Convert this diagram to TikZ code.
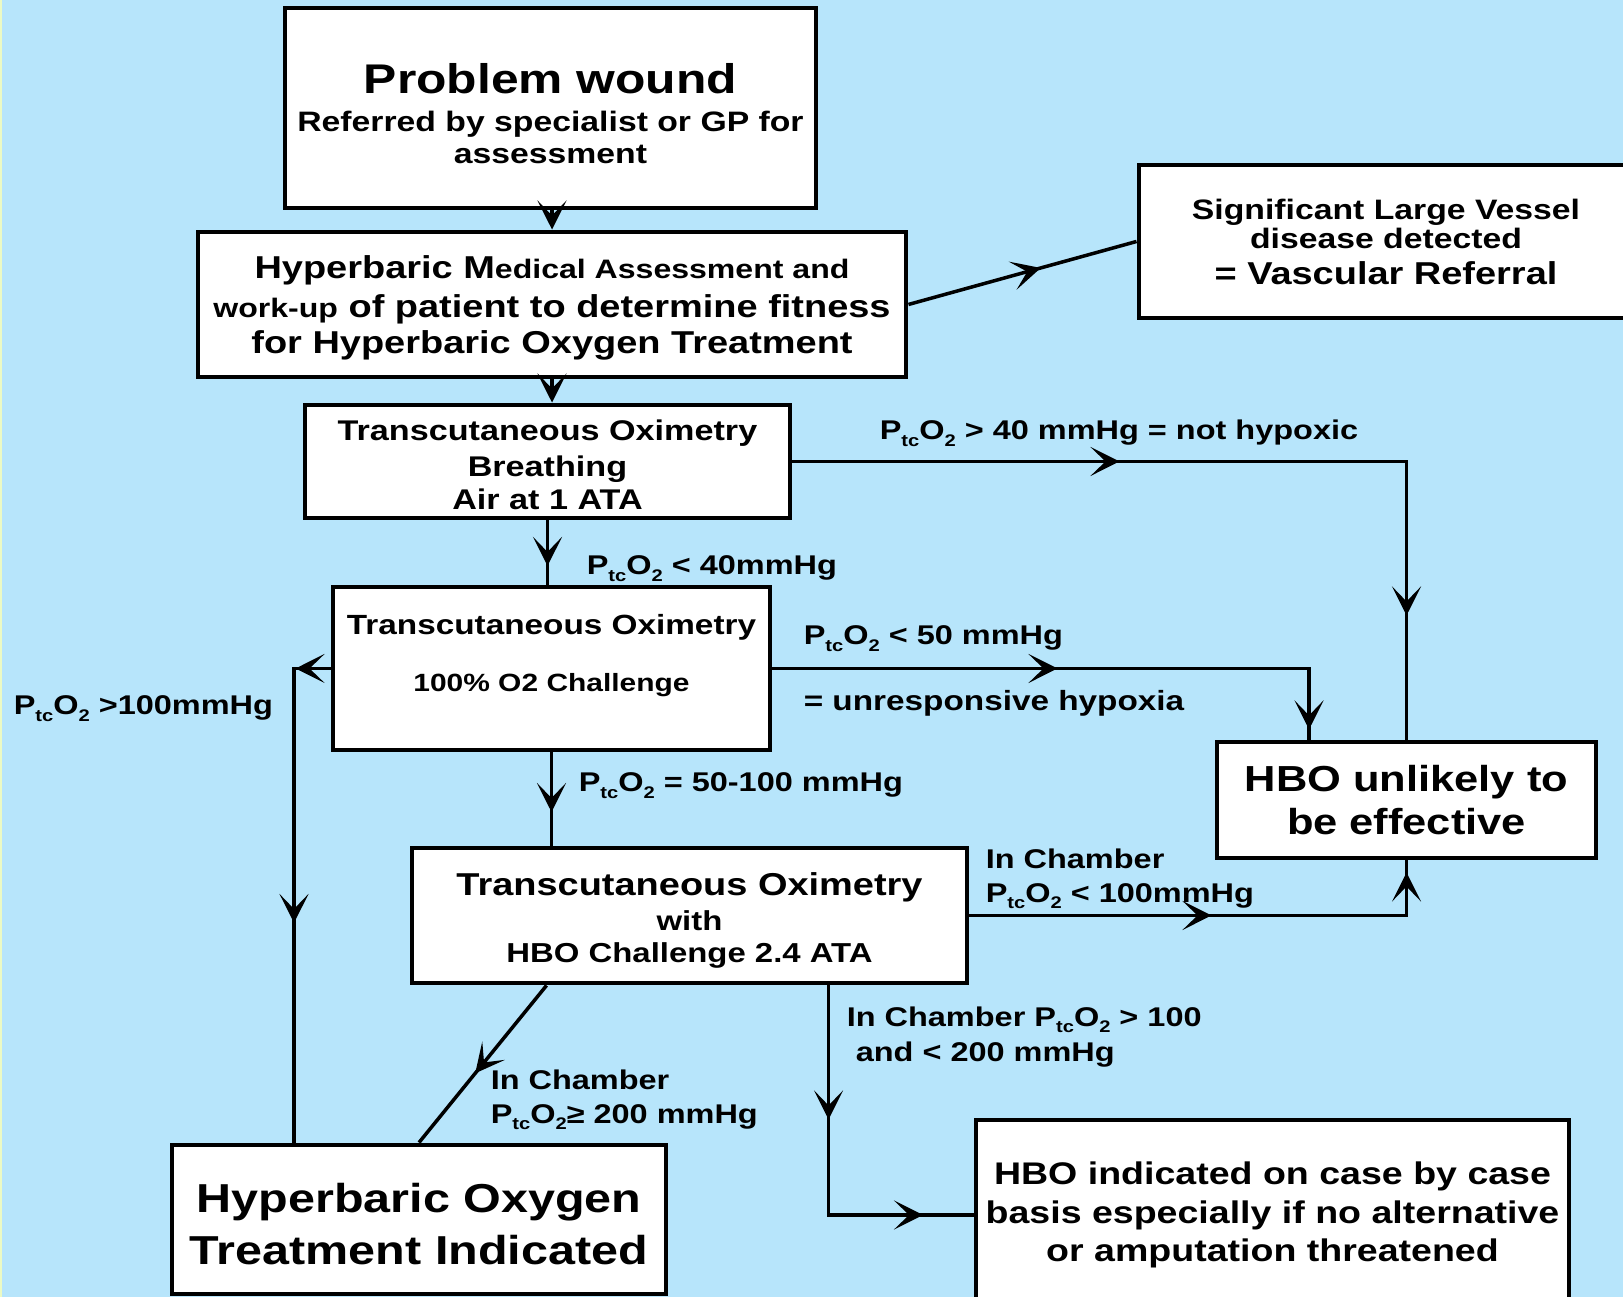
\documentclass[tikz,border=0pt]{standalone}
\usepackage{fontspec}
\setmainfont{Liberation Sans}[FakeStretch=1.2]
\usepackage{graphicx}
\usepackage{tikz}
\usetikzlibrary{arrows.meta,decorations.markings}
\definecolor{skyback}{RGB}{183,229,251}
\definecolor{edgeyellow}{RGB}{236,250,196}
\newcommand{\LOWSUB}[1]{\raisebox{-0.45ex}{\scalebox{0.62}{#1}}}
\newcommand{\PTCO}{P\LOWSUB{tc}O\LOWSUB{2}}
\newcommand{\FSZ}[2]{\fontsize{#1}{#2}\selectfont\bfseries}
\newcommand{\TOPSTRUT}[1]{\rule{0pt}{#1}}

\begin{document}
\begin{tikzpicture}[
    flowtip/.tip={Stealth[length=2.9mm,width=2.9mm,inset=1.5mm]},
    >=flowtip,
    line width=1pt,
    box/.style={draw, fill=white, line width=1.4pt, align=center, inner sep=0pt},
    lbl/.style={anchor=west, align=left, inner sep=0pt, font=\FSZ{7.7}{9.4}},
    midarrow/.style={postaction={decorate}, decoration={markings, mark=at position #1 with {\arrow{flowtip}}}},
    twoarrows/.style 2 args={postaction={decorate}, decoration={markings,
        mark=at position #1 with {\arrow{flowtip}}, mark=at position #2 with {\arrow{flowtip}}}}
]
    \useasboundingbox (0,0) rectangle (16.23,12.97);
    \fill[skyback] (0,0) rectangle (16.23,12.97);
    \fill[edgeyellow] (0,0) rectangle (0.025,12.97);
    \clip (0,0) rectangle (16.23,12.97);

    % boxes
    \node[box, minimum width=5.31cm, minimum height=2.00cm, font=\FSZ{8}{9}] (wound) at (5.505,11.89)
        {{\fontsize{11.8}{14}\selectfont\TOPSTRUT{11.8pt}Problem wound}\\[1.8pt]Referred by specialist or GP for\\assessment};
    \node[box, minimum width=7.08cm, minimum height=1.45cm, font=\FSZ{9}{10.2}] (assess) at (5.52,9.925)
        {\TOPSTRUT{8.3pt}Hyperbaric M{\fontsize{7.6}{9}\selectfont edical Assessment and}\\[0.9pt]{\fontsize{7.6}{9}\selectfont work-up} of patient to determine fitness\\for Hyperbaric Oxygen Treatment};
    \node[box, minimum width=4.94cm, minimum height=1.53cm, font=\FSZ{8}{8.5}] (vessel) at (13.86,10.555)
        {Significant Large Vessel\\disease detected\\[1.5pt]{\fontsize{9}{10}\selectfont = Vascular Referral}};
    \node[box, minimum width=4.85cm, minimum height=1.13cm, font=\FSZ{8.1}{9.3}] (air) at (5.475,8.355)
        {\TOPSTRUT{7.8pt}Transcutaneous Oximetry\\[1pt]Breathing\\Air at 1 ATA};
    \node[box, minimum width=4.37cm, minimum height=1.63cm, font=\FSZ{7.9}{8.1}] (oxygen) at (5.515,6.285)
        {Transcutaneous Oximetry\\[8.1pt]{\fontsize{7.1}{8}\selectfont 100\% O2 Challenge}\\[0.8pt]\mbox{}};
    \node[box, minimum width=3.79cm, minimum height=1.16cm, font=\FSZ{10.3}{12}] (unlikely) at (14.065,4.97)
        {HBO unlikely to\\be effective};
    \node[box, minimum width=5.55cm, minimum height=1.35cm, font=\FSZ{7.8}{9.1}] (hbochal) at (6.895,3.815)
        {{\fontsize{9}{10}\selectfont\TOPSTRUT{9.5pt}Transcutaneous Oximetry}\\[0.9pt]with\\HBO Challenge 2.4 ATA};
    \node[box, minimum width=4.94cm, minimum height=1.49cm, font=\FSZ{11.5}{14.8}] (indicated) at (4.19,0.775)
        {\TOPSTRUT{11.2pt}Hyperbaric Oxygen\\Treatment Indicated};
    \node[box, minimum width=5.93cm, minimum height=1.90cm, font=\FSZ{8.9}{11}] (casebycase) at (12.725,0.82)
        {HBO indicated on case by case\\basis especially if no alternative\\or amputation threatened};

    \coordinate (lbend) at (2.94,6.285);

    % connectors
    \draw[->] (assess.north |- wound.south) -- (assess.north);
    \draw[->] (assess.south) -- (assess.south |- air.north);
    \draw[midarrow=0.71] (air.south) -- (air.south |- oxygen.north);
    \draw[midarrow=0.64] (oxygen.south) -- (oxygen.south |- hbochal.north);
    \draw[midarrow=0.58] (assess.east) -- (vessel.west);
    \draw[twoarrows={3.27cm}{7.68cm}] (air.east) -| (unlikely.north);
    \draw[twoarrows={2.85cm}{5.975cm}] (oxygen.east) -| ([xshift=-0.975cm]unlikely.north);
    \draw[twoarrows={0.35cm}{2.91cm}] (oxygen.west) -- (lbend) -- (lbend |- indicated.north);
    \draw[twoarrows={2.42cm}{4.8cm}] (hbochal.east) -| (unlikely.south);
    \draw[twoarrows={1.34cm}{3.24cm}] ([xshift=4.19cm]hbochal.south west) |- (casebycase.west);
    \draw[midarrow=0.56] ([xshift=1.37cm]hbochal.south west) -- (indicated.north);

    % labels
    \node[lbl, anchor=base west] (nothypoxic) at (8.78,8.57) {\PTCO{} > 40 mmHg = not hypoxic};
    \node[lbl, anchor=base west] (below40) at (5.85,7.22) {\PTCO{} < 40mmHg};
    \node[lbl, anchor=base west] (below50) at (8.02,6.52) {\PTCO{} < 50 mmHg};
    \node[lbl, anchor=base west, font=\FSZ{7.9}{9.4}] (unresp) at (8.02,5.86) {= unresponsive hypoxia};
    \node[lbl, anchor=base west] (above100) at (0.12,5.82) {\PTCO{} >100mmHg};
    \node[lbl, anchor=base west] (midrange) at (5.77,5.05) {\PTCO{} = 50-100 mmHg};
    \node[lbl] (chamberlow) at (9.84,4.18) {In Chamber\\\PTCO{} < 100mmHg};
    \node[lbl, font=\FSZ{7.7}{10}] (chambermid) at (8.45,2.60) {In Chamber \PTCO{} > 100\\\ and < 200 mmHg};
    \node[lbl] (chamberhigh) at (4.89,1.97) {In Chamber\\\PTCO{}≥ 200 mmHg};
\end{tikzpicture}
\end{document}
